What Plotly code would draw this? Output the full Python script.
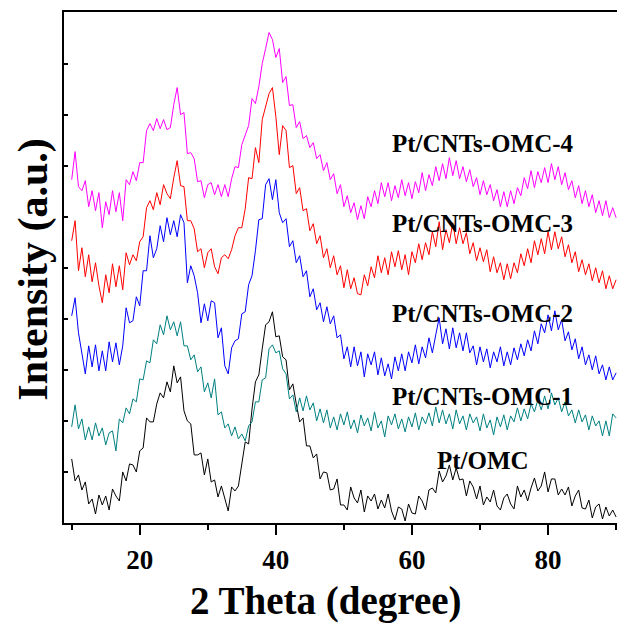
import plotly.graph_objects as go

# 2-theta scan grid (degrees), step 0.5
two_theta = [10 + 0.5 * i for i in range(161)]

pt_omc = [64, 42, 48, 33, 41, 19, 24, 9, 28, 18,
          27, 13, 34, 27, 22, 51, 42, 59, 58, 51,
          72, 75, 105, 101, 101, 119, 130, 125, 141, 131,
          157, 140, 146, 112, 102, 99, 68, 68, 70, 48,
          64, 41, 43, 26, 37, 24, 12, 36, 32, 37,
          59, 81, 79, 114, 141, 148, 174, 198, 201, 211,
          186, 187, 166, 163, 133, 139, 119, 101, 105, 77,
          77, 65, 69, 44, 51, 50, 33, 34, 44, 18,
          18, 13, 36, 25, 20, 33, 11, 27, 22, 29,
          14, 23, 15, 29, 12, 3, 16, 14, 2, 19,
          10, 9, 27, 22, 13, 33, 35, 30, 52, 41,
          47, 58, 43, 55, 43, 44, 27, 42, 36, 24,
          37, 18, 26, 21, 33, 17, 13, 25, 29, 19,
          14, 37, 26, 33, 22, 35, 45, 32, 37, 51,
          31, 44, 44, 28, 34, 28, 36, 17, 27, 33,
          15, 14, 23, 5, 16, 19, 4, 16, 7, 13,
          6]

omc_1 = [96, 118, 94, 104, 83, 96, 83, 100, 87, 95,
         78, 90, 92, 72, 104, 100, 115, 109, 124, 121,
         144, 143, 162, 160, 183, 179, 198, 188, 207, 193,
         201, 187, 201, 177, 177, 163, 168, 151, 156, 131,
         140, 125, 144, 108, 111, 95, 99, 87, 96, 84,
         89, 82, 97, 101, 121, 121, 143, 145, 174, 178,
         170, 172, 154, 149, 124, 128, 111, 125, 112, 127,
         113, 120, 102, 114, 100, 113, 95, 106, 93, 109,
         98, 111, 94, 103, 90, 108, 97, 105, 92, 111,
         95, 102, 86, 107, 98, 109, 94, 104, 91, 106,
         96, 110, 93, 106, 99, 110, 97, 116, 100, 113,
         99, 109, 94, 113, 99, 107, 93, 109, 100, 106,
         92, 109, 95, 103, 88, 106, 96, 108, 93, 107,
         101, 115, 102, 114, 104, 119, 111, 123, 113, 127,
         114, 130, 118, 125, 111, 121, 107, 113, 100, 113,
         101, 108, 93, 107, 97, 102, 87, 102, 87, 109,
         105]

omc_2 = [207, 225, 190, 168, 149, 177, 156, 178, 152, 172,
         152, 181, 161, 180, 158, 177, 215, 200, 202, 226,
         217, 252, 252, 287, 265, 274, 297, 281, 305, 288,
         302, 286, 308, 300, 240, 257, 247, 230, 200, 219,
         202, 222, 220, 185, 195, 157, 149, 175, 182, 184,
         209, 211, 238, 247, 272, 303, 304, 338, 344, 323,
         343, 310, 300, 304, 276, 282, 260, 267, 246, 252,
         226, 234, 213, 220, 201, 216, 199, 207, 185, 188,
         164, 176, 156, 176, 157, 171, 146, 169, 158, 171,
         148, 165, 147, 159, 144, 166, 152, 169, 152, 171,
         160, 178, 159, 176, 165, 185, 170, 188, 205, 179,
         194, 174, 195, 175, 190, 172, 190, 170, 177, 158,
         176, 161, 174, 155, 171, 161, 176, 157, 171, 158,
         175, 163, 179, 167, 183, 172, 192, 179, 199, 190,
         208, 192, 212, 193, 203, 182, 191, 173, 184, 164,
         176, 158, 168, 153, 167, 149, 158, 143, 156, 143,
         150]

omc_3 = [282, 302, 252, 275, 246, 268, 241, 260, 237, 220,
         248, 230, 259, 236, 257, 233, 270, 258, 268, 262,
         281, 286, 315, 322, 313, 330, 318, 338, 329, 324,
         345, 362, 337, 336, 302, 302, 294, 271, 274, 255,
         270, 274, 256, 249, 265, 268, 264, 273, 287, 295,
         295, 314, 345, 344, 375, 360, 403, 416, 429, 435,
         406, 368, 397, 392, 355, 357, 329, 335, 312, 314,
         292, 299, 279, 287, 265, 274, 255, 267, 248, 257,
         235, 253, 234, 245, 229, 228, 248, 237, 256, 245,
         267, 250, 265, 248, 271, 256, 272, 253, 268, 248,
         271, 260, 279, 263, 280, 268, 291, 276, 301, 273,
         293, 280, 300, 279, 295, 279, 290, 269, 280, 262,
         275, 261, 273, 251, 266, 250, 260, 243, 259, 244,
         260, 250, 269, 257, 274, 260, 282, 268, 284, 269,
         291, 273, 291, 274, 286, 266, 278, 260, 271, 251,
         263, 248, 259, 242, 255, 240, 252, 234, 247, 234,
         243]

omc_4 = [343, 371, 336, 332, 342, 316, 332, 312, 330, 295,
         321, 308, 332, 311, 330, 302, 343, 338, 351, 342,
         360, 360, 392, 399, 392, 404, 394, 403, 393, 395,
         418, 435, 408, 410, 369, 370, 364, 341, 342, 325,
         338, 340, 328, 338, 326, 338, 326, 344, 356, 355,
         378, 387, 397, 424, 419, 436, 459, 474, 490, 483,
         465, 474, 440, 446, 417, 418, 395, 401, 384, 387,
         375, 380, 364, 368, 352, 360, 343, 349, 329, 338,
         316, 327, 310, 320, 303, 317, 304, 326, 316, 332,
         319, 340, 326, 340, 322, 337, 325, 343, 327, 340,
         324, 341, 330, 350, 332, 348, 337, 356, 342, 359,
         344, 365, 347, 362, 344, 356, 341, 353, 336, 345,
         328, 342, 328, 338, 322, 333, 316, 331, 316, 332,
         319, 335, 327, 345, 334, 352, 335, 351, 340, 355,
         340, 359, 343, 356, 338, 350, 333, 342, 325, 337,
         319, 332, 316, 328, 310, 322, 307, 322, 305, 315,
         305]

series_names = ["Pt/OMC", "Pt/CNTs-OMC-1", "Pt/CNTs-OMC-2", "Pt/CNTs-OMC-3", "Pt/CNTs-OMC-4"]
series_values = [pt_omc, omc_1, omc_2, omc_3, omc_4]
series_colors = ["#000000", "#008080", "#0000FF", "#FF0000", "#FF00FF"]
label_y = [62, 126, 209, 299, 379]
label_x = 70.4

FONT = "Liberation Serif, Times New Roman, serif"

fig = go.Figure()
for name, vals, col in zip(series_names, series_values, series_colors):
    fig.add_trace(go.Scatter(x=two_theta[:len(vals)], y=vals, mode="lines", name=name,
                             line=dict(color=col, width=1), showlegend=False))

for name, ly in zip(series_names, label_y):
    fig.add_annotation(x=label_x, y=ly, xref="x", yref="y", text=name, showarrow=False,
                       xanchor="center", yanchor="middle",
                       font=dict(family=FONT, size=25, color="black", weight="bold"))

fig.add_annotation(x=0.47, y=-0.152, xref="paper", yref="paper", text="2 Theta (degree)",
                   showarrow=False, xanchor="center", yanchor="middle",
                   font=dict(family=FONT, size=39, color="black", weight="bold"))
fig.add_annotation(x=-0.054, y=0.4975, xref="paper", yref="paper", text="Intensity (a.u.)",
                   showarrow=False, xanchor="center", yanchor="middle", textangle=-90,
                   font=dict(family=FONT, size=42, color="black", weight="bold"))

fig.update_layout(
    width=617, height=618,
    margin=dict(l=56, r=2, t=4, b=103),
    paper_bgcolor="white", plot_bgcolor="white",
    xaxis=dict(range=[8.87, 90.72], tick0=0, dtick=20, ticks="outside", ticklen=10, tickwidth=1.5,
               tickcolor="black", showline=True, linecolor="black", linewidth=1.5, mirror=True,
               showgrid=False, zeroline=False, ticklabelstandoff=2,
               minor=dict(dtick=10, tick0=0, ticks="outside", ticklen=5, tickwidth=1.5, tickcolor="black", showgrid=False),
               tickfont=dict(family=FONT, size=27, color="black", weight="bold")),
    yaxis=dict(range=[0, 510.5], tick0=0, dtick=51, ticks="inside", ticklen=4, tickwidth=1.5,
               tickcolor="black", showline=True, linecolor="black", linewidth=1.5, mirror=True,
               showgrid=False, zeroline=False, showticklabels=False),
)

fig.write_html("out.html")
